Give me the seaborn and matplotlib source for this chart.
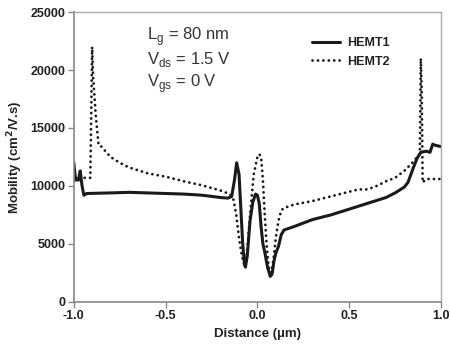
import numpy as np
import pandas as pd
import matplotlib
matplotlib.use("Agg")
import matplotlib.pyplot as plt
import seaborn as sns

# HEMT1 (solid)
x1 = [-1.0, -0.99, -0.985, -0.975, -0.965, -0.955, -0.945, -0.93, -0.8, -0.7, -0.6, -0.5,
      -0.4, -0.3, -0.2, -0.16, -0.14, -0.125, -0.113, -0.1, -0.09, -0.08, -0.07, -0.065,
      -0.055, -0.04, -0.025, -0.01, 0.0, 0.01, 0.02, 0.03, 0.04, 0.055, 0.07, 0.08, 0.09,
      0.1, 0.115, 0.13, 0.145, 0.2, 0.3, 0.4, 0.5, 0.6, 0.7, 0.75, 0.8, 0.82, 0.85, 0.87,
      0.89, 0.92, 0.94, 0.955, 0.97, 1.0]
y1 = [12000, 10500, 10600, 10500, 11300, 10000, 9200, 9350, 9400, 9450, 9400, 9350,
      9300, 9200, 9000, 8950, 9100, 10500, 12000, 11000, 8000, 5000, 3200, 3000,
      4000, 7000, 8600, 9300, 9200, 8500, 6500, 5000, 4300, 3000, 2200, 2400, 3500,
      4200, 4800, 5800, 6200, 6500, 7100, 7500, 8000, 8500, 9000, 9400, 9900, 10300, 11600, 12400,
      12900, 13000, 12900, 13600, 13500, 13400]

# HEMT2 (dotted)
x2 = [-1.0, -0.91, -0.9, -0.895, -0.88, -0.865, -0.85, -0.8, -0.75, -0.7, -0.6, -0.5,
      -0.4, -0.3, -0.2, -0.15, -0.13, -0.115, -0.1, -0.085, -0.07, -0.065, -0.055, -0.04,
      -0.02, 0.0, 0.01, 0.02, 0.03, 0.04, 0.05, 0.06, 0.07, 0.08, 0.09, 0.1, 0.115, 0.13,
      0.145, 0.2, 0.3, 0.4, 0.45, 0.5, 0.55, 0.6, 0.65, 0.7, 0.75, 0.8, 0.85, 0.87, 0.885,
      0.89, 0.895, 0.9, 0.92, 1.0]
y2 = [10700, 10700, 22000, 19500, 16000, 13500, 13400, 12500, 12000, 11600, 11100, 10800,
      10400, 10050, 9600, 9300, 8800, 7500, 5500, 4000, 3100, 3000, 4500, 7500,
      11000, 12500, 12750, 12500, 10500, 7500, 5000, 3200, 2500, 2800, 4000, 5500, 7000, 7900,
      8100, 8400, 8700, 9100, 9300, 9500, 9700, 9700, 10000, 10400, 10700, 11300, 12100, 12500, 12800,
      21000, 18000, 10300, 10600, 10600]

df1 = pd.DataFrame({"x": x1, "y": y1})
df2 = pd.DataFrame({"x": x2, "y": y2})

sns.set_style("ticks")
plt.rcParams["font.family"] = ["Liberation Sans", "DejaVu Sans"]

fig = plt.figure(figsize=(4.5, 3.45), dpi=100)
ax = fig.add_axes([0.164, 0.125, 0.816, 0.84])

sns.lineplot(data=df1, x="x", y="y", ax=ax, color="#1a1a1a", lw=2.2,
             estimator=None, sort=False, label="HEMT1")
sns.lineplot(data=df2, x="x", y="y", ax=ax, color="#1a1a1a", lw=2.0,
             estimator=None, sort=False, label="HEMT2",
             linestyle=(0, (0.05, 1.9)), dash_capstyle="round")

ax.set_xlim(-1.0, 1.0)
ax.set_ylim(0, 25000)
ax.set_xticks([-1.0, -0.5, 0.0, 0.5, 1.0])
ax.set_xticklabels(["-1.0", "-0.5", "0.0", "0.5", "1.0"])
ax.set_yticks([0, 5000, 10000, 15000, 20000, 25000])
ax.set_yticklabels(["0", "5000", "10000", "15000", "20000", "25000"])
for lab in ax.get_xticklabels() + ax.get_yticklabels():
    lab.set_fontweight("bold")
    lab.set_fontsize(9)
    lab.set_color("#222222")
ax.tick_params(axis="both", direction="out", length=4, width=1, color="#888888", pad=2)

for s in ["left", "bottom"]:
    ax.spines[s].set_color("#888888")
    ax.spines[s].set_linewidth(1.2)
for s in ["top", "right"]:
    ax.spines[s].set_visible(True)
    ax.spines[s].set_color("#aaaaaa")
    ax.spines[s].set_linewidth(1.0)

ax.set_xlabel("Distance (\u00b5m)", fontsize=9.5, fontweight="bold", color="#222222", labelpad=4)
ax.set_ylabel("Mobility (cm$^\\mathbf{2}$/V.s)", fontsize=9.5, fontweight="bold", color="#222222")
ax.yaxis.set_label_coords(-0.133, 0.5)

ax.text(0.2, 0.915, "L$_\\mathregular{g}$ = 80 nm", transform=ax.transAxes, fontsize=12, color="#333333", va="center")
ax.text(0.2, 0.835, "V$_\\mathregular{ds}$ = 1.5 V", transform=ax.transAxes, fontsize=12, color="#333333", va="center")
ax.text(0.2, 0.755, "V$_\\mathregular{gs}$ = 0 V", transform=ax.transAxes, fontsize=12, color="#333333", va="center")

leg = ax.legend(loc="upper right", bbox_to_anchor=(0.875, 0.93), frameon=False,
                prop={"weight": "bold", "size": 9}, handlelength=2.2, handletextpad=0.6,
                labelspacing=0.5, borderaxespad=0)
for t in leg.get_texts():
    t.set_color("#222222")

fig.savefig("out.png", dpi=100)
